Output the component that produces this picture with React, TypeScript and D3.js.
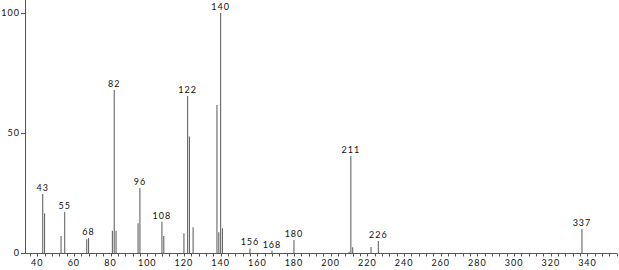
import React from "react";
import * as d3 from "d3";

const mzValues = [43, 44, 53, 55, 67, 68, 81, 82, 83, 95, 96, 108, 109, 120, 122, 123, 125, 138, 139, 140, 141, 156, 168, 180, 210, 211, 212, 222, 226, 337];
const intensities = [24.6, 16.5, 7.1, 17.2, 5.7, 6.3, 9.3, 67.9, 9.3, 12.4, 27.1, 13.0, 7.1, 8.2, 65.4, 48.5, 10.7, 61.7, 8.6, 100, 10.3, 1.9, 1.0, 5.4, 0.5, 40.4, 2.4, 2.5, 5.0, 10.0];
const labeledPeaks = [43, 55, 68, 82, 96, 108, 122, 140, 156, 168, 180, 211, 226, 337];
const xTickValues = [40, 60, 80, 100, 120, 140, 160, 180, 200, 220, 240, 260, 280, 300, 320, 340];
const yTickValues = [0, 50, 100];

const W = 619;
const H = 270;

export default function App() {
  const x = d3.scaleLinear().domain([33.35, 356.1]).range([25, 617]);
  const y = d3.scaleLinear().domain([0, 100]).range([253, 13]);
  const minorTicks = d3.range(36, 357, 4);
  const font = "Lato, 'DejaVu Sans', sans-serif";
  const peaks = mzValues.map((m, i) => ({ m, v: intensities[i] }));
  return (
    <svg width={W} height={H} style={{ position: "absolute", left: 0, top: 0, background: "#fff" }}>
      {/* bars */}
      {peaks.map((p) => (
        <line key={p.m} x1={x(p.m)} x2={x(p.m)} y1={y(0)} y2={y(p.v)} stroke="#666" strokeWidth={1.1} />
      ))}
      {/* peak labels */}
      {peaks
        .filter((p) => labeledPeaks.includes(p.m))
        .map((p) => (
          <text key={"l" + p.m} x={x(p.m)} y={y(p.v) - 3} textAnchor="middle" fontFamily={font} fontSize={9} letterSpacing={1} fill="#111">
            {String(p.m)}
          </text>
        ))}
      {/* axes */}
      <line x1={25.5} x2={25.5} y1={0} y2={253.5} stroke="#555" strokeWidth={1} />
      <line x1={25} x2={617} y1={253.5} y2={253.5} stroke="#555" strokeWidth={1} />
      {minorTicks.map((t) => (
        <line key={"m" + t} x1={Math.round(x(t)) + 0.5} x2={Math.round(x(t)) + 0.5} y1={253.5} y2={256.5} stroke="#555" strokeWidth={1} />
      ))}
      {xTickValues.map((t) => (
        <text key={"x" + t} x={x(t)} y={266} textAnchor="middle" fontFamily={font} fontSize={9} letterSpacing={1} fill="#111">
          {String(t)}
        </text>
      ))}
      {yTickValues.map((t) => (
        <g key={"y" + t}>
          <line x1={21} x2={25} y1={Math.round(y(t)) + 0.5} y2={Math.round(y(t)) + 0.5} stroke="#555" strokeWidth={1} />
          <text x={20} y={y(t) + 3} textAnchor="end" fontFamily={font} fontSize={9} letterSpacing={1} fill="#111">
            {String(t)}
          </text>
        </g>
      ))}
    </svg>
  );
}
